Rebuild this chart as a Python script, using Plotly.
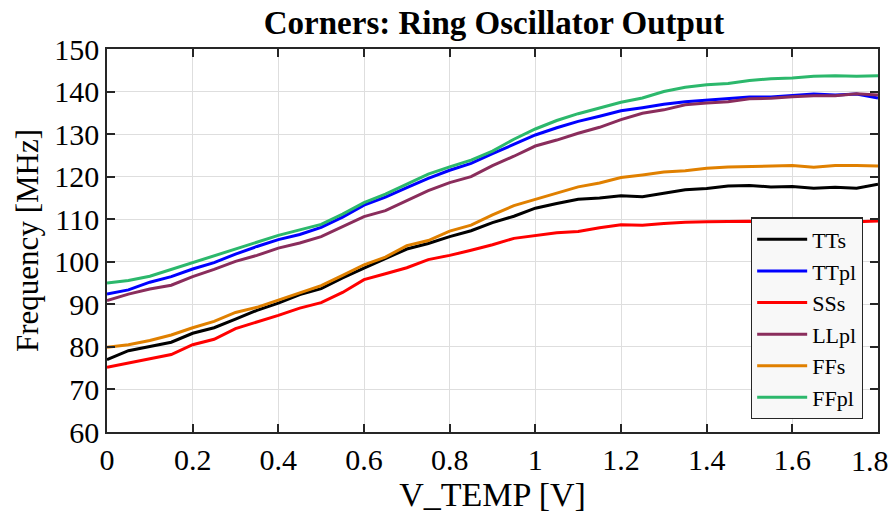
import plotly.graph_objects as go

v_temp = [0, 0.05, 0.1, 0.15, 0.2, 0.25, 0.3, 0.35, 0.4, 0.45, 0.5, 0.55, 0.6, 0.65, 0.7, 0.75,
          0.8, 0.85, 0.9, 0.95, 1.0, 1.05, 1.1, 1.15, 1.2, 1.25, 1.3, 1.35, 1.4, 1.45, 1.5, 1.55,
          1.6, 1.65, 1.7, 1.75, 1.8]

tts = [77.0, 79.1, 80.1, 81.1, 83.2, 84.5, 86.5, 88.6, 90.3, 92.3, 93.7, 96.2, 98.5, 100.8, 103.0, 104.3,
       105.9, 107.3, 109.2, 110.7, 112.6, 113.7, 114.7, 115.0, 115.5, 115.3, 116.1, 116.9, 117.2, 117.8, 117.9, 117.6,
       117.7, 117.3, 117.5, 117.3, 118.2]
ttpl = [92.4, 93.4, 95.2, 96.5, 98.3, 99.8, 101.8, 103.6, 105.2, 106.4, 108.1, 110.5, 113.3, 115.2, 117.4, 119.6,
        121.5, 123.1, 125.4, 127.6, 129.8, 131.5, 133.0, 134.2, 135.5, 136.2, 137.0, 137.6, 138.0, 138.3, 138.7, 138.7,
        139.0, 139.4, 139.2, 139.4, 138.5]
sss = [75.2, 76.2, 77.3, 78.2, 80.5, 81.8, 84.3, 85.8, 87.4, 89.1, 90.4, 92.8, 95.8, 97.2, 98.6, 100.5,
       101.5, 102.7, 104.0, 105.5, 106.1, 106.8, 107.1, 108.0, 108.7, 108.6, 109.0, 109.3, 109.4, 109.5, 109.5, 109.2,
       109.7, 109.9, 109.5, 109.4, 109.6]
llpl = [90.9, 92.4, 93.6, 94.5, 96.5, 98.2, 100.1, 101.5, 103.2, 104.4, 105.9, 108.2, 110.6, 112.0, 114.4, 116.7,
        118.6, 120.0, 122.6, 124.8, 127.2, 128.6, 130.2, 131.6, 133.4, 134.9, 135.7, 136.9, 137.3, 137.6, 138.3, 138.4,
        138.8, 139.0, 139.0, 139.5, 139.2]
ffs = [79.9, 80.5, 81.5, 82.8, 84.5, 86.0, 88.1, 89.3, 91.0, 92.7, 94.4, 96.8, 99.3, 101.1, 103.8, 105.0,
       107.2, 108.6, 111.0, 113.2, 114.7, 116.1, 117.6, 118.5, 119.8, 120.4, 121.1, 121.4, 122.0, 122.3, 122.4, 122.5,
       122.6, 122.2, 122.6, 122.6, 122.5]
ffpl = [95.0, 95.6, 96.6, 98.2, 99.9, 101.4, 103.1, 104.7, 106.2, 107.5, 108.8, 111.2, 113.9, 115.9, 118.2, 120.6,
        122.3, 123.9, 126.0, 128.8, 131.2, 133.2, 134.8, 136.1, 137.5, 138.5, 140.0, 141.0, 141.6, 141.9, 142.6, 143.0,
        143.2, 143.6, 143.7, 143.6, 143.7]

series_names = ["TTs", "TTpl", "SSs", "LLpl", "FFs", "FFpl"]
series_values = [tts, ttpl, sss, llpl, ffs, ffpl]
series_colors = ["#000000", "#0000ff", "#ff0000", "#8a2d5c", "#e08000", "#2cb86c"]

x_tickvals = [0, 0.2, 0.4, 0.6, 0.8, 1.0, 1.2, 1.4, 1.6, 1.8]
x_ticktext = ["0", "0.2", "0.4", "0.6", "0.8", "1", "1.2", "1.4", "1.6", "1.8"]
y_tickvals = [60, 70, 80, 90, 100, 110, 120, 130, 140, 150]

FONT = "Liberation Serif, Times New Roman, serif"
TICK_SIZE = 30

fig = go.Figure()
for name, vals, col in zip(series_names, series_values, series_colors):
    fig.add_trace(go.Scatter(x=v_temp, y=vals, name=name, mode="lines",
                             line=dict(color=col, width=3)))

axis_common = dict(
    showline=True, linecolor="#262626", linewidth=1.5, mirror="ticks",
    ticks="inside", ticklen=8, tickwidth=1.5, tickcolor="#262626",
    showgrid=True, gridcolor="#dedede", gridwidth=1,
    zeroline=False, automargin=False,
    tickfont=dict(family=FONT, size=TICK_SIZE, color="#000000"),
)

# last x tick label sits at the right edge of the figure: draw it as an
# annotation anchored on the x axis value so it stays fully visible
shown_ticktext = x_ticktext[:-1] + [""]
fig.add_annotation(x=x_tickvals[-1], xref="x", y=0, yref="paper",
                   text=x_ticktext[-1], showarrow=False,
                   xanchor="right", yanchor="top", xshift=13, yshift=-10,
                   font=dict(family=FONT, size=TICK_SIZE, color="#000000"))

fig.update_layout(
    width=891, height=515,
    margin=dict(l=107, r=13, t=49, b=83),
    paper_bgcolor="white", plot_bgcolor="white",
    title=dict(text="<b>Corners: Ring Oscillator Output</b>", x=494 / 891, xanchor="center",
               yref="container", y=1 - 22 / 515, yanchor="middle",
               font=dict(family=FONT, size=33, color="#000000")),
    xaxis=dict(range=[0, 1.8], tickmode="array", tickvals=x_tickvals, ticktext=shown_ticktext,
               title=dict(text="V_TEMP [V]", font=dict(family=FONT, size=34, color="#000000"), standoff=0),
               **axis_common),
    yaxis=dict(range=[60, 150], tickmode="array", tickvals=y_tickvals,
               title=dict(text="Frequency [MHz]", font=dict(family=FONT, size=31, color="#000000"), standoff=6),
               **axis_common),
    legend=dict(x=0.9805, y=0.033, xanchor="right", yanchor="bottom",
                bgcolor="#f8f8f8", bordercolor="#262626", borderwidth=1.2,
                font=dict(family=FONT, size=22, color="#000000"),
                tracegroupgap=0, itemwidth=50),
    showlegend=True,
)

fig.write_html("out.html", config={"displayModeBar": False},
               post_script="document.body.style.margin='0';")
